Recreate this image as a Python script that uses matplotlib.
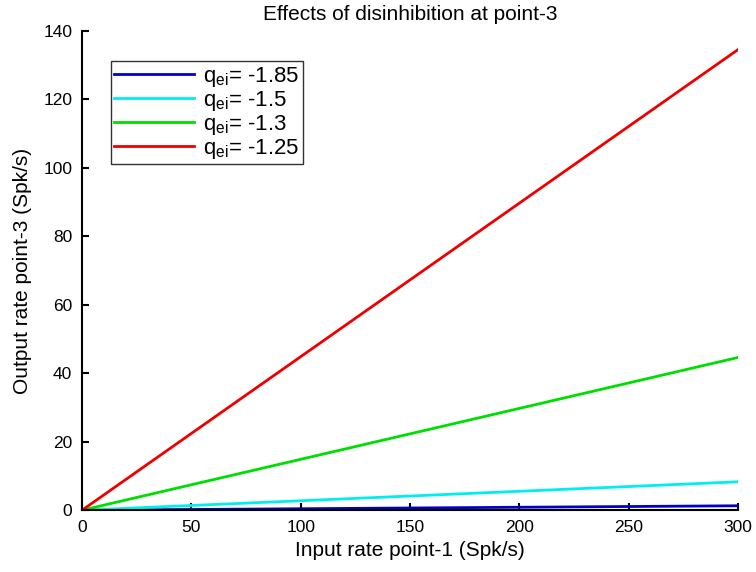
import matplotlib
matplotlib.use("Agg")
import matplotlib.pyplot as plt

plt.rcParams['font.family'] = ['Liberation Sans', 'DejaVu Sans']
plt.rcParams['mathtext.fontset'] = 'custom'
plt.rcParams['mathtext.rm'] = 'Liberation Sans'
plt.rcParams['mathtext.it'] = 'Liberation Sans'

input_rate = [0, 300]
out_q185 = [0, 1.3]
out_q15 = [0, 8.3]
out_q13 = [0, 44.6]
out_q125 = [0, 134.5]
labels = [r'$\mathregular{q_{ei}}$= -1.85', r'$\mathregular{q_{ei}}$= -1.5',
          r'$\mathregular{q_{ei}}$= -1.3', r'$\mathregular{q_{ei}}$= -1.25']
colors = ['#0000cc', '#00eeee', '#00dd00', '#ee0000']

fig = plt.figure(figsize=(7.56, 5.72), dpi=100)
ax = fig.add_axes([0.1085, 0.108, 0.8675, 0.838])
for ys, c, l in zip([out_q185, out_q15, out_q13, out_q125], colors, labels):
    ax.plot(input_rate, ys, color=c, lw=2, label=l)

ax.set_xlim(0, 300)
ax.set_ylim(0, 140)
ax.set_xticks(range(0, 301, 50))
ax.set_yticks(range(0, 141, 20))
ax.spines['top'].set_visible(False)
ax.spines['right'].set_visible(False)
ax.spines['left'].set_linewidth(1.5)
ax.spines['bottom'].set_linewidth(1.5)
ax.tick_params(direction='in', length=5, width=1.5, labelsize=12.5, pad=7)
ax.set_xlabel('Input rate point-1 (Spk/s)', fontsize=15, labelpad=4)
ax.set_ylabel('Output rate point-3 (Spk/s)', fontsize=15, labelpad=8)
ax.set_title('Effects of disinhibition at point-3', fontsize=15, pad=8)
leg = ax.legend(loc='upper left', bbox_to_anchor=(0.027, 0.96), fontsize=16,
                frameon=True, fancybox=False, edgecolor='black',
                handlelength=3.6, borderpad=0.15, labelspacing=0.0, handletextpad=0.4)
leg.get_frame().set_linewidth(1.0)
fig.savefig('out.png', dpi=100)
